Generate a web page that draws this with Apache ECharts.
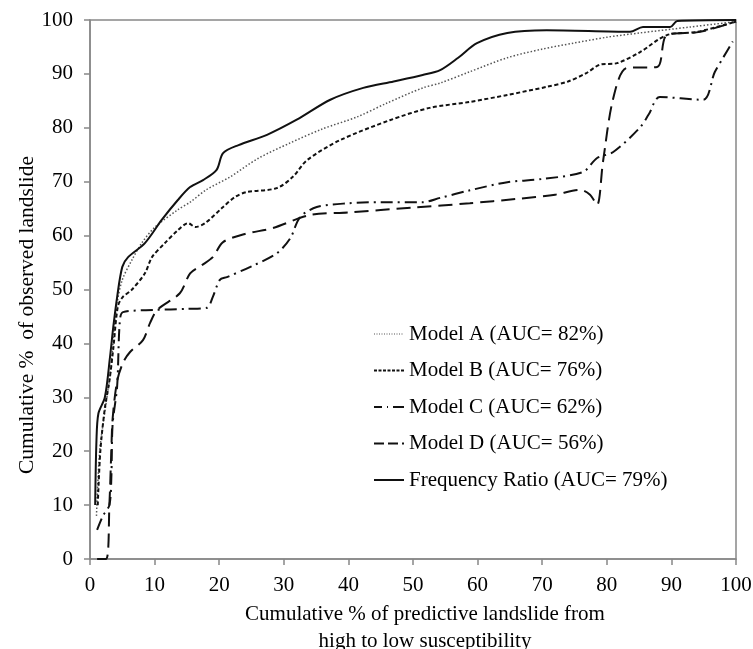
<!DOCTYPE html>
<html>
<head>
<meta charset="utf-8">
<script src="https://cdn.jsdelivr.net/npm/echarts@6/dist/echarts.min.js"></script>
<style>
  html, body { margin: 0; padding: 0; background: #fff; }
  #chart { width: 753px; height: 649px; }
</style>
</head>
<body>
<div id="chart"></div>
<script>
// Success-rate curves: [cumulative % of predictive landslide, cumulative % of observed landslide]
const seriesNames = [
  'Model A (AUC= 82%)',
  'Model B (AUC= 76%)',
  'Model C (AUC= 62%)',
  'Model D (AUC= 56%)',
  'Frequency Ratio (AUC= 79%)'
];

const modelA = [[1,8],[1.5,20],[2.5,29],[3.2,35],[3.7,42],[4.2,47.5],[5,51.8],[6.5,55.5],[8,58.6],[10,61.5],[13.6,64.8],[15.5,66.2],[18,68.5],[21.7,70.9],[26,74.3],[31,77.2],[36,79.8],[41.3,82],[46,84.6],[51.5,87.4],[54.2,88.3],[58.8,90.4],[64.6,93],[70,94.6],[74.8,95.7],[80,96.8],[85.1,97.6],[92.9,98.7],[100,99.7]];

const modelB = [[1.2,10],[1.6,20],[2.3,28],[3,33],[3.6,39],[4.3,46.8],[5,48.5],[6.5,50],[8.5,53],[9.6,56],[11.5,58.5],[13.6,61],[15.2,62.3],[16.3,61.6],[17.8,62.3],[20.6,65.3],[22.5,67.2],[24.3,68.1],[28.9,68.8],[31.4,70.9],[33.6,74],[38.7,77.7],[46.4,81.4],[52.6,83.7],[58.8,84.8],[64.6,86.1],[70.7,87.6],[74,88.6],[76.9,90.2],[78.9,91.7],[81.6,92],[85.1,94],[89.3,97.2],[94,97.8],[100,99.7]];

const modelC = [[1.1,5.4],[2,8],[3,10],[3.3,15],[3.5,25],[4.2,32],[4.6,43.8],[5.1,45.8],[10,46.2],[15,46.4],[18.1,46.6],[19,48.6],[20.1,51.8],[21.2,52.3],[25,54.3],[28.9,56.7],[31,59.5],[32.5,63.4],[35.1,65.3],[40,66],[45,66.2],[51.5,66.2],[54.2,67],[58.8,68.4],[64.6,69.9],[70,70.5],[76.3,71.8],[78.5,74.4],[81,75.5],[85.1,80],[86.5,82.5],[88.2,85.7],[94.9,85.2],[96.7,90.3],[98,93],[99.5,96]];

const modelD = [[1.1,0],[2.5,0],[3,10],[3.3,20],[3.5,26],[4.2,33],[5.1,36.4],[6.2,38.4],[8.2,40.6],[9.3,43.8],[10.4,46.2],[13.9,49.3],[15.5,53],[17.3,54.5],[19,56],[20.6,58.8],[24,60.3],[28.3,61.4],[34,63.8],[40,64.3],[50,65.2],[58.8,66],[66,66.8],[72,67.6],[75.9,68.5],[77.4,67.6],[78.5,65.7],[79.4,73.6],[81,85.5],[83.1,91.1],[87.8,91.3],[89.3,97.2],[94.4,97.8],[100,99.7]];

const freqRatio = [[0.8,10],[1,22],[1.3,27],[2.3,30],[3.1,37.5],[3.6,43],[4.2,48.6],[5,54.2],[5.9,56],[8.5,58.6],[11.1,62.9],[13.6,66.6],[15.5,69],[17.5,70.3],[19.6,72.2],[20.6,75.3],[23,76.8],[27.4,78.7],[32,81.5],[37.2,85.2],[42.3,87.4],[47,88.6],[51.5,89.8],[54.2,90.7],[57,93],[59.9,95.7],[64.6,97.6],[70.7,98.1],[83.6,97.8],[85.6,98.7],[89.8,98.7],[90.9,99.8],[100,100]];

const axisTicks = [0, 10, 20, 30, 40, 50, 60, 70, 80, 90, 100];

const serif = '"Liberation Serif", "Times New Roman", serif';
const ink = '#111';

const dashA = [1.5, 2];
const dashB = [4, 2.5];
const dashC = [12, 5, 2, 5];
const dashD = [14, 7];

function lineSeries(name, data, dash, width, color) {
  return {
    name: name,
    type: 'line',
    data: data,
    smooth: 0.3,
    symbol: 'none',
    lineStyle: { color: color, width: width, type: dash },
    itemStyle: { color: color },
    emphasis: { disabled: true }
  };
}

const chart = echarts.init(document.getElementById('chart'), null, { renderer: 'canvas' });

chart.setOption({
  animation: false,
  backgroundColor: '#fff',
  grid: {
    left: 90, right: 17, top: 20, bottom: 90,
    outerBoundsMode: 'none',
    containLabel: false,
    show: true, borderColor: '#888', borderWidth: 1.5, backgroundColor: 'transparent'
  },
  legend: {
    orient: 'vertical',
    left: 368,
    top: 317,
    itemWidth: 30,
    itemHeight: 14,
    itemGap: 12.5,
    itemStyle: { color: 'rgba(0,0,0,0)', borderColor: 'rgba(0,0,0,0)', borderWidth: 0 },
    data: [
      { name: seriesNames[0], lineStyle: { type: [1, 1.5], width: 1.2 } },
      { name: seriesNames[1], lineStyle: { type: [3, 1.5] } },
      { name: seriesNames[2], lineStyle: { type: [8, 5, 1, 5, 11] } },
      { name: seriesNames[3], lineStyle: { type: [10, 4] } },
      { name: seriesNames[4] }
    ],
    textStyle: { fontFamily: serif, fontSize: 21, color: '#000', lineHeight: 24 },
    selectedMode: false
  },
  xAxis: {
    type: 'value',
    min: axisTicks[0], max: axisTicks[axisTicks.length - 1], interval: 10,
    name: 'Cumulative % of predictive landslide from\nhigh to low susceptibility',
    nameLocation: 'middle',
    nameGap: 39,
    nameTextStyle: { fontFamily: serif, fontSize: 21, color: '#000', lineHeight: 27, padding: [0, 0, 0, 24] },
    axisLine: { lineStyle: { color: '#888', width: 1.5 } },
    axisTick: { show: true, inside: false, length: 6, lineStyle: { color: '#888', width: 1.5 } },
    axisLabel: { fontFamily: serif, fontSize: 21, color: '#000', margin: 16 },
    splitLine: { show: false }
  },
  yAxis: {
    type: 'value',
    min: axisTicks[0], max: axisTicks[axisTicks.length - 1], interval: 10,
    axisLine: { lineStyle: { color: '#888', width: 1.5 } },
    axisTick: { show: true, inside: false, length: 6, lineStyle: { color: '#888', width: 1.5 } },
    axisLabel: { fontFamily: serif, fontSize: 21, color: '#000', margin: 17 },
    splitLine: { show: false }
  },
  graphic: [{
    type: 'text',
    x: 27,
    y: 315,
    rotation: Math.PI / 2,
    style: {
      text: 'Cumulative %  of observed landslide',
      font: '21.5px ' + serif,
      fill: '#000',
      align: 'center',
      verticalAlign: 'middle'
    }
  }],
  series: [
    lineSeries(seriesNames[0], modelA, dashA, 1.5, '#555'),
    lineSeries(seriesNames[1], modelB, dashB, 2, ink),
    lineSeries(seriesNames[2], modelC, dashC, 2, ink),
    lineSeries(seriesNames[3], modelD, dashD, 2, ink),
    lineSeries(seriesNames[4], freqRatio, 'solid', 2, ink)
  ]
});
</script>
</body>
</html>
